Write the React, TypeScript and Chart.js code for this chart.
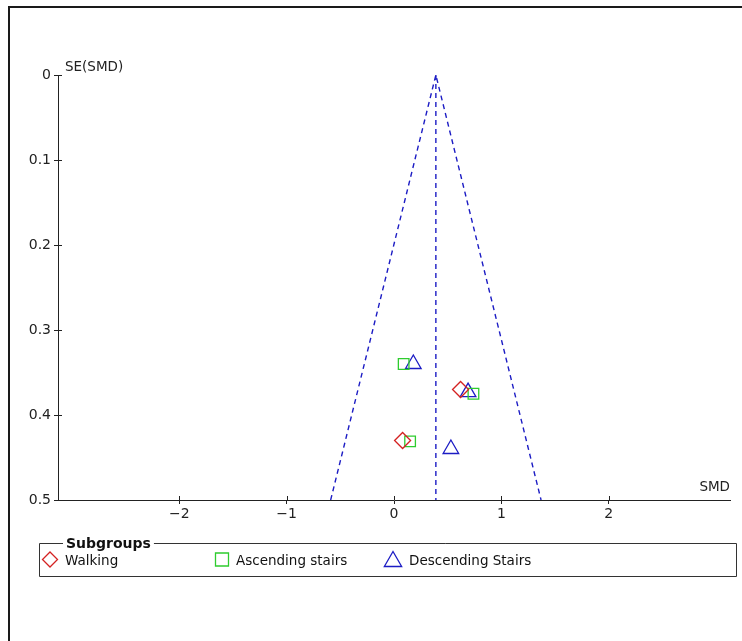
import React, { useEffect, useRef } from "react";
import { Chart, registerables } from "chart.js";

Chart.register(...registerables);

const walkingSMD = [0.62, 0.08];
const walkingSE = [0.37, 0.43];
const ascendingSMD = [0.09, 0.74, 0.15];
const ascendingSE = [0.34, 0.375, 0.431];
const descendingSMD = [0.18, 0.69, 0.53];
const descendingSE = [0.34, 0.373, 0.44];

const funnelX = [-0.59, 0.39, 1.37];
const funnelY = [0.5, 0, 0.5];
const centerX = [0.39, 0.39];
const centerY = [0, 0.5];

const xTicks = [-2, -1, 0, 1, 2];
const yTicks = [0, 0.1, 0.2, 0.3, 0.4, 0.5];
const legendLabels = ["Walking", "Ascending stairs", "Descending Stairs"];
const legendTitle = "Subgroups";

const FONT = "'DejaVu Sans', sans-serif";
const RED = "#d42222";
const GREEN = "#2ecc2e";
const BLUE = "#1c1cc4";
const AXIS = "#222222";

const zip = (xs: number[], ys: number[]) => xs.map((x, i) => ({ x, y: ys[i] }));

function marker(ctx: CanvasRenderingContext2D, style: string, x: number, y: number, r: number) {
  ctx.beginPath();
  if (style === "rectRot") {
    ctx.moveTo(x, y - r);
    ctx.lineTo(x + r, y);
    ctx.lineTo(x, y + r);
    ctx.lineTo(x - r, y);
    ctx.closePath();
  } else if (style === "rect") {
    ctx.rect(x - r, y - r, 2 * r, 2 * r);
  } else {
    ctx.moveTo(x, y - r);
    ctx.lineTo(x + r * 0.866, y + r * 0.5);
    ctx.lineTo(x - r * 0.866, y + r * 0.5);
    ctx.closePath();
  }
  ctx.stroke();
}

const decorPlugin = {
  id: "decor",
  beforeDraw(chart: any) {
    const ctx = chart.ctx;
    ctx.save();
    ctx.fillStyle = "#1a1a1a";
    ctx.fillRect(8, 6, 742 - 8, 2);
    ctx.fillRect(8, 6, 2, 641 - 6);
    ctx.restore();
  },
  afterDraw(chart: any) {
    const ctx = chart.ctx;
    const xs = chart.scales.x;
    const ys = chart.scales.y;
    const area = chart.chartArea;
    ctx.save();
    ctx.strokeStyle = AXIS;
    ctx.lineWidth = 1;
    ctx.beginPath();
    yTicks.forEach((v) => {
      const py = Math.round(ys.getPixelForValue(v)) + 0.5;
      ctx.moveTo(area.left, py);
      ctx.lineTo(area.left + 4, py);
    });
    xTicks.forEach((v) => {
      const px = Math.round(xs.getPixelForValue(v)) + 0.5;
      ctx.moveTo(px, area.bottom);
      ctx.lineTo(px, area.bottom - 4);
    });
    ctx.stroke();
    ctx.fillStyle = AXIS;
    ctx.font = `13.5px ${FONT}`;
    ctx.textBaseline = "alphabetic";
    ctx.textAlign = "left";
    ctx.fillText("SE(SMD)", area.left + 7, area.top - 4);
    ctx.textAlign = "right";
    ctx.fillText("SMD", area.right, area.bottom - 9);

    const lx = 39.5, ly = 543.5, lw = 697, lh = 33;
    ctx.font = `bold 14px ${FONT}`;
    ctx.textAlign = "left";
    const tw = ctx.measureText(legendTitle).width;
    const tx = 66;
    ctx.strokeStyle = "#333";
    ctx.lineWidth = 1;
    ctx.beginPath();
    ctx.moveTo(tx - 3, ly);
    ctx.lineTo(lx, ly);
    ctx.lineTo(lx, ly + lh);
    ctx.lineTo(lx + lw, ly + lh);
    ctx.lineTo(lx + lw, ly);
    ctx.lineTo(tx + tw + 3, ly);
    ctx.stroke();
    ctx.fillStyle = "#111";
    ctx.fillText(legendTitle, tx, ly + 4);

    const items = [
      { style: "rectRot", r: 7.5, color: RED, mx: 50, my: 559.5, tx: 65 },
      { style: "rect", r: 6.5, color: GREEN, mx: 222, my: 559.5, tx: 236 },
      { style: "triangle", r: 10, color: BLUE, mx: 393, my: 561.5, tx: 409 },
    ];
    ctx.font = `13.5px ${FONT}`;
    items.forEach((it, i) => {
      ctx.strokeStyle = it.color;
      ctx.lineWidth = 1.3;
      marker(ctx, it.style, it.mx, it.my, it.r);
      ctx.fillStyle = "#111";
      ctx.textBaseline = "alphabetic";
      ctx.fillText(legendLabels[i], it.tx, 565);
    });
    ctx.restore();
  },
};

export default function App() {
  const ref = useRef<HTMLCanvasElement>(null);
  useEffect(() => {
    if (!ref.current) return;
    const chart = new Chart(ref.current, {
      type: "scatter",
      data: {
        datasets: [
          {
            type: "line",
            data: zip(funnelX, funnelY),
            borderColor: BLUE,
            borderWidth: 1.4,
            borderDash: [5, 4],
            pointRadius: 0,
            fill: false,
            tension: 0,
          } as any,
          {
            type: "line",
            data: zip(centerX, centerY),
            borderColor: BLUE,
            borderWidth: 1.4,
            borderDash: [5, 4],
            pointRadius: 0,
            fill: false,
          } as any,
          {
            label: legendLabels[0],
            data: zip(walkingSMD, walkingSE),
            pointStyle: "rectRot",
            pointRadius: 8,
            borderColor: RED,
            backgroundColor: "rgba(0,0,0,0)",
            borderWidth: 1.3,
          },
          {
            label: legendLabels[1],
            data: zip(ascendingSMD, ascendingSE),
            pointStyle: "rect",
            pointRadius: 7.5,
            borderColor: GREEN,
            backgroundColor: "rgba(0,0,0,0)",
            borderWidth: 1.3,
          },
          {
            label: legendLabels[2],
            data: zip(descendingSMD, descendingSE),
            pointStyle: "triangle",
            pointRadius: 9,
            borderColor: BLUE,
            backgroundColor: "rgba(0,0,0,0)",
            borderWidth: 1.3,
          },
        ],
      },
      options: {
        responsive: false,
        animation: false,
        events: [],
        layout: { padding: { left: 0, top: 75, right: 12, bottom: 0 } },
        plugins: { legend: { display: false }, tooltip: { enabled: false } },
        scales: {
          x: {
            type: "linear",
            min: -3.13,
            max: 3.13,
            afterBuildTicks: (s: any) => {
              s.ticks = xTicks.map((v) => ({ value: v }));
            },
            afterFit: (s: any) => {
              s.height = 141;
            },
            ticks: {
              color: AXIS,
              font: { family: FONT, size: 14 },
              padding: 2,
              callback: (v: any) => String(v).replace("-", "\u2212"),
            },
            grid: { drawOnChartArea: false, tickLength: 4, color: AXIS },
            border: { color: AXIS, width: 1 },
          },
          y: {
            type: "linear",
            min: 0,
            max: 0.5,
            reverse: true,
            afterBuildTicks: (s: any) => {
              s.ticks = yTicks.map((v) => ({ value: v }));
            },
            afterFit: (s: any) => {
              s.width = 58;
            },
            ticks: {
              color: AXIS,
              font: { family: FONT, size: 14 },
              padding: 3,
              callback: (v: any) => (v === 0 ? "0" : Number(v).toFixed(1)),
            },
            grid: { drawOnChartArea: false, tickLength: 4, color: AXIS },
            border: { color: AXIS, width: 1 },
          },
        },
      } as any,
      plugins: [decorPlugin],
    });
    return () => chart.destroy();
  }, []);
  return (
    <div style={{ position: "absolute", left: 0, top: 0, width: 742, height: 641, background: "#fff", overflow: "hidden" }}>
      <canvas ref={ref} width={742} height={641} style={{ display: "block" }} />
    </div>
  );
}
